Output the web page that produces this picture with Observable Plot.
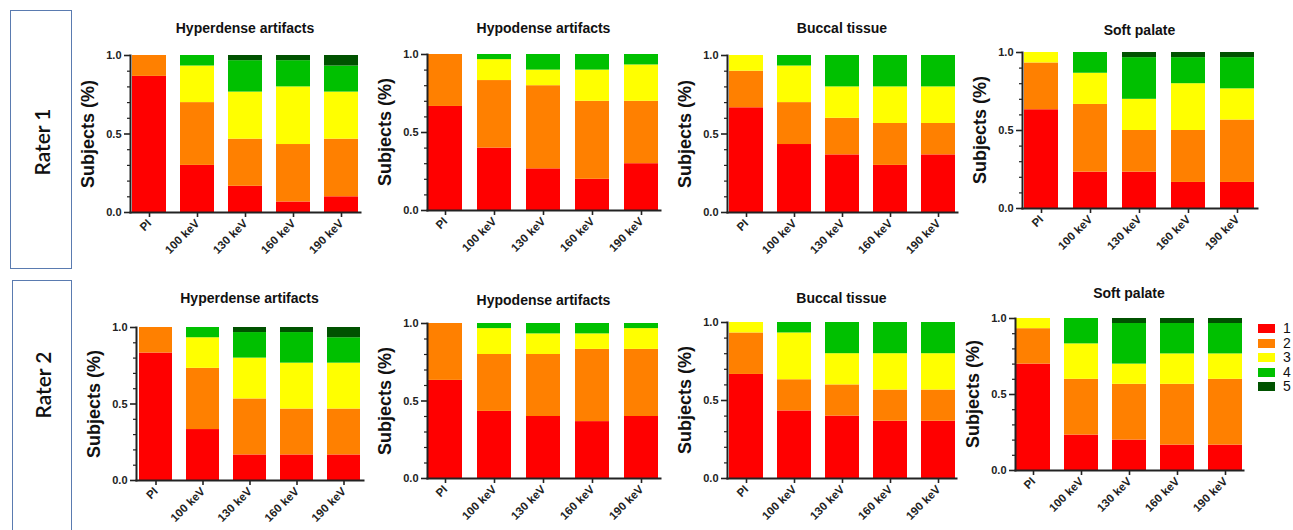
<!DOCTYPE html>
<html>
<head>
<meta charset="utf-8">
<script src="https://cdn.jsdelivr.net/npm/d3@7"></script>
<script src="https://cdn.jsdelivr.net/npm/@observablehq/plot@0.6"></script>
<style>
  html, body { margin: 0; padding: 0; background: #fff; }
  #root { position: relative; width: 1293px; height: 530px; overflow: hidden; background: #fff; font-family: Arial, "Liberation Sans", sans-serif; }
  .panel { position: absolute; }
  .title { position: absolute; font: bold 14px Arial, "Liberation Sans", sans-serif; color: #111; white-space: nowrap; transform: translate(-50%, -50%); }
  .ylab { position: absolute; font: bold 18px Arial, "Liberation Sans", sans-serif; color: #111; white-space: nowrap; transform: translate(-50%, -50%) rotate(-90deg); }
  .rater { position: absolute; border: 1.5px solid #5a7bb0; box-sizing: border-box; }
  .rater span { position: absolute; left: 50%; font: 600 21px Lato, "Open Sans", sans-serif; color: #111; white-space: nowrap; transform: translate(-50%, -50%) rotate(-90deg); }
  .legend { position: absolute; font: 14px Arial, "Liberation Sans", sans-serif; color: #111; }
  .legend .item { position: absolute; white-space: nowrap; }
  .legend .sw { position: absolute; width: 17px; height: 9px; }
  .legend .lb { position: absolute; left: 25px; top: -4px; }
</style>
</head>
<body>
<div id="root"></div>
<script>
// ---- data ----
const categories = ["PI", "100 keV", "130 keV", "160 keV", "190 keV"];
const scores = ["1", "2", "3", "4", "5"];
const scoreColors = ["#ff0000", "#ff8000", "#ffff00", "#00c000", "#005200"];
const panelTitles = ["Hyperdense artifacts", "Hypodense artifacts", "Buccal tissue", "Soft palate"];
const raters = ["Rater 1", "Rater 2"];
const yTicks = [0, 0.5, 1];
const yLabel = "Subjects (%)";

// proportion of subjects per score (1..5) for each category
const r1Hyperdense = [
  [0.867, 0.133, 0, 0, 0],
  [0.3, 0.4, 0.233, 0.067, 0],
  [0.167, 0.3, 0.3, 0.2, 0.033],
  [0.067, 0.366, 0.367, 0.167, 0.033],
  [0.1, 0.367, 0.3, 0.166, 0.067]
];
const r1Hypodense = [
  [0.667, 0.333, 0, 0, 0],
  [0.4, 0.433, 0.134, 0.033, 0],
  [0.267, 0.533, 0.1, 0.1, 0],
  [0.2, 0.5, 0.2, 0.1, 0],
  [0.3, 0.4, 0.233, 0.067, 0]
];
const r1Buccal = [
  [0.667, 0.233, 0.1, 0, 0],
  [0.433, 0.267, 0.233, 0.067, 0],
  [0.367, 0.233, 0.2, 0.2, 0],
  [0.3, 0.267, 0.233, 0.2, 0],
  [0.367, 0.2, 0.233, 0.2, 0]
];
const r1SoftPalate = [
  [0.633, 0.3, 0.067, 0, 0],
  [0.233, 0.434, 0.2, 0.133, 0],
  [0.233, 0.267, 0.2, 0.267, 0.033],
  [0.167, 0.333, 0.3, 0.167, 0.033],
  [0.167, 0.4, 0.2, 0.2, 0.033]
];
const r2Hyperdense = [
  [0.833, 0.167, 0, 0, 0],
  [0.333, 0.4, 0.2, 0.067, 0],
  [0.167, 0.366, 0.267, 0.167, 0.033],
  [0.167, 0.3, 0.3, 0.2, 0.033],
  [0.167, 0.3, 0.3, 0.166, 0.067]
];
const r2Hypodense = [
  [0.633, 0.367, 0, 0, 0],
  [0.433, 0.367, 0.167, 0.033, 0],
  [0.4, 0.4, 0.133, 0.067, 0],
  [0.367, 0.466, 0.1, 0.067, 0],
  [0.4, 0.433, 0.134, 0.033, 0]
];
const r2Buccal = [
  [0.667, 0.266, 0.067, 0, 0],
  [0.433, 0.2, 0.3, 0.067, 0],
  [0.4, 0.2, 0.2, 0.2, 0],
  [0.367, 0.2, 0.233, 0.2, 0],
  [0.367, 0.2, 0.233, 0.2, 0]
];
const r2SoftPalate = [
  [0.7, 0.233, 0.067, 0, 0],
  [0.233, 0.367, 0.233, 0.167, 0],
  [0.2, 0.367, 0.133, 0.267, 0.033],
  [0.167, 0.4, 0.2, 0.2, 0.033],
  [0.167, 0.433, 0.167, 0.2, 0.033]
];

// ---- layout (axis x, plot top, plot bottom, plot right end, title y) ----
const panels = [
  {values: r1Hyperdense, title: 0, ax: 130, top: 55, bot: 212, end: 360, ty: 28},
  {values: r1Hypodense,  title: 1, ax: 427, top: 54, bot: 210, end: 660, ty: 28},
  {values: r1Buccal,     title: 2, ax: 727, top: 55, bot: 212, end: 957, ty: 28},
  {values: r1SoftPalate, title: 3, ax: 1022, top: 52, bot: 208, end: 1257, ty: 30},
  {values: r2Hyperdense, title: 0, ax: 136, top: 327, bot: 480, end: 363, ty: 298},
  {values: r2Hypodense,  title: 1, ax: 427, top: 323, bot: 478, end: 660, ty: 300},
  {values: r2Buccal,     title: 2, ax: 727, top: 322, bot: 478, end: 956, ty: 298},
  {values: r2SoftPalate, title: 3, ax: 1015, top: 318, bot: 470, end: 1243, ty: 293}
];

const root = document.getElementById("root");

// rater boxes (ty = text centre, local to box)
const raterBoxes = [
  {left: 10, top: 10, width: 62, height: 259, ty: 131},
  {left: 12, top: 280, width: 60, height: 260, ty: 104}
];
raterBoxes.forEach((b, i) => {
  const d = document.createElement("div");
  d.className = "rater";
  Object.assign(d.style, {left: b.left + "px", top: b.top + "px", width: b.width + "px", height: b.height + "px"});
  const s = document.createElement("span");
  s.textContent = raters[i];
  s.style.top = b.ty + "px";
  d.appendChild(s);
  root.appendChild(d);
});

const fmt = d3.format(".1f");
const minorTicks = d3.range(1, 10).filter(k => k !== 5).map(k => k / 10);

panels.forEach(p => {
  const rows = [];
  categories.forEach((c, i) => scores.forEach((s, j) => rows.push({cat: c, score: s, v: p.values[i][j]})));
  const ml = 40, mr = 6, mt = 6, mb = 60;
  const w = ml + (p.end - p.ax) + mr;
  const h = mt + (p.bot - p.top) + mb;
  const chart = Plot.plot({
    width: w, height: h,
    marginLeft: ml, marginRight: mr, marginTop: mt, marginBottom: mb,
    style: {fontFamily: "Arial, 'Liberation Sans', sans-serif", fontWeight: "bold", fontSize: "11px", color: "#222", background: "transparent", overflow: "visible"},
    x: {domain: categories, paddingInner: 0.3, paddingOuter: 0.02, label: null},
    y: {domain: [0, 1], label: null},
    color: {domain: scores, range: scoreColors},
    marks: [
      Plot.barY(rows, {x: "cat", y: "v", fill: "score"}),
      Plot.axisY({ticks: yTicks, tickFormat: fmt, tickSize: 6, tickPadding: 3, strokeWidth: 1.6, label: null}),
      Plot.axisY({ticks: minorTicks, tickSize: 3, strokeWidth: 1.2, tickFormat: () => "", label: null}),
      Plot.axisX({tickRotate: -45, tickSize: 5, tickPadding: 4, strokeWidth: 1.6, fontSize: 11.5, label: null}),
      Plot.frame({anchor: "left", stroke: "#222", strokeWidth: 2}),
      Plot.frame({anchor: "bottom", stroke: "#222", strokeWidth: 2})
    ]
  });
  const wrap = document.createElement("div");
  wrap.className = "panel";
  wrap.style.left = (p.ax - ml) + "px";
  wrap.style.top = (p.top - mt) + "px";
  wrap.appendChild(chart);
  root.appendChild(wrap);

  const t = document.createElement("div");
  t.className = "title";
  t.textContent = panelTitles[p.title];
  t.style.left = ((p.ax + p.end) / 2) + "px";
  t.style.top = p.ty + "px";
  root.appendChild(t);

  const yl = document.createElement("div");
  yl.className = "ylab";
  yl.textContent = yLabel;
  yl.style.left = (p.ax - 42) + "px";
  yl.style.top = ((p.top + p.bot) / 2) + "px";
  root.appendChild(yl);
});

// legend
const legend = document.createElement("div");
legend.className = "legend";
legend.style.left = "1258px";
legend.style.top = "324px";
scores.forEach((s, i) => {
  const it = document.createElement("div");
  it.className = "item";
  it.style.top = (i * 14.6) + "px";
  const sw = document.createElement("div");
  sw.className = "sw";
  sw.style.background = scoreColors[i];
  const lb = document.createElement("div");
  lb.className = "lb";
  lb.textContent = s;
  it.appendChild(sw);
  it.appendChild(lb);
  legend.appendChild(it);
});
root.appendChild(legend);
</script>
</body>
</html>
